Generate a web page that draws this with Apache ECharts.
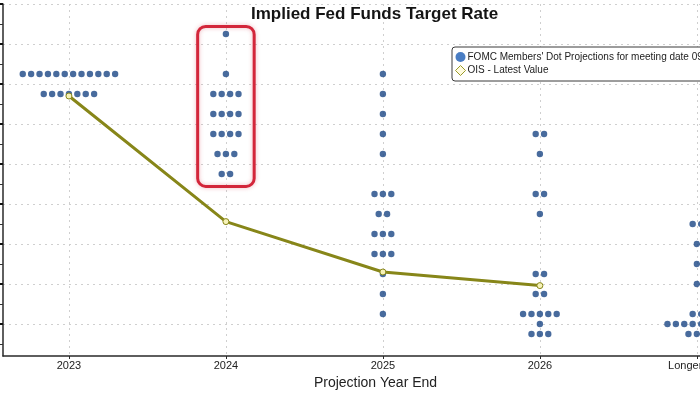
<!DOCTYPE html>
<html>
<head>
<meta charset="utf-8">
<script src="https://cdn.jsdelivr.net/npm/echarts@6/dist/echarts.min.js"></script>
<style>
html,body{margin:0;padding:0;background:#fff;}
#chart{width:700px;height:394px;}
</style>
</head>
<body>
<div id="chart"></div>
<script>
// ---- data ----
const categories = ['2023', '2024', '2025', '2026', 'Longer Run'];
// FOMC dots: [rate, number of participants]
const dots2023 = [[5.625, 12], [5.375, 7]];
const dots2024 = [[6.125, 1], [5.625, 1], [5.375, 4], [5.125, 4], [4.875, 4], [4.625, 3], [4.375, 2]];
const dots2025 = [[5.625, 1], [5.375, 1], [5.125, 1], [4.875, 1], [4.625, 1], [4.125, 3], [3.875, 2], [3.625, 3], [3.375, 3], [3.125, 1], [2.875, 1], [2.625, 1]];
const dots2026 = [[4.875, 2], [4.625, 1], [4.125, 2], [3.875, 1], [3.125, 2], [2.875, 2], [2.625, 5], [2.5, 1], [2.375, 3]];
const dotsLonger = [[3.75, 2], [3.5, 1], [3.25, 1], [3.0, 1], [2.625, 2], [2.5, 8], [2.375, 3]];
// OIS latest value per year end
const oisValues = [5.35, 3.78, 3.15, 2.98];
// y-axis ticks
const yMajorTicks = [2.5, 3.0, 3.5, 4.0, 4.5, 5.0, 5.5, 6.0, 6.5];
const yMinorTicks = [2.25, 2.75, 3.25, 3.75, 4.25, 4.75, 5.25, 5.75, 6.25];
const dotSeriesName = "FOMC Members' Dot Projections for meeting date 09/20/2023";
const oisSeriesName = 'OIS - Latest Value';

// ---- layout helpers ----
const DOT_STEP = 0.0535; // horizontal spacing between dots in a row (category units)
const allDots = [dots2023, dots2024, dots2025, dots2026, dotsLonger];
const dotPoints = [];
allDots.forEach(function (rows, ci) {
  rows.forEach(function (r) {
    const n = r[1];
    for (let j = 0; j < n; j++) {
      dotPoints.push([ci + (j - (n - 1) / 2) * DOT_STEP, r[0]]);
    }
  });
});
const oisPoints = oisValues.map(function (v, i) { return [i, v]; });
const catTicks = categories.map(function (c, i) { return i; });

const FONT = 'Liberation Sans, Arial, sans-serif';
const chart = echarts.init(document.getElementById('chart'), null, {renderer: 'canvas'});

const option = {
  animation: false,
  backgroundColor: '#ffffff',
  title: {
    text: 'Implied Fed Funds Target Rate',
    left: 246,
    top: 1,
    textStyle: {fontFamily: FONT, fontSize: 17, fontWeight: 'bold', color: '#141414'}
  },
  legend: {
    orient: 'vertical',
    left: 452,
    top: 47,
    padding: [5, 6, 5, 3],
    itemGap: 3,
    itemWidth: 10,
    itemHeight: 10,
    borderColor: '#3a3a3a',
    borderWidth: 1,
    borderRadius: 3,
    backgroundColor: '#ffffff',
    textStyle: {fontFamily: FONT, fontSize: 10, color: '#222', padding: [0, 0, 0, -3]},
    data: [
      {name: dotSeriesName, icon: 'circle', itemStyle: {color: '#1c5cb4'}},
      {name: oisSeriesName, icon: 'diamond', itemStyle: {color: '#fffbe0', borderColor: '#9a9a28', borderWidth: 1}}
    ]
  },
  grid: {left: 3, right: 0, top: 4, bottom: 38, containLabel: false, outerBoundsMode: 'none'},
  xAxis: {
    type: 'value',
    min: -0.42,
    max: 4.02,
    axisLine: {show: true, onZero: false, lineStyle: {color: '#2a2a2a', width: 1.5}},
    axisTick: {show: true, customValues: catTicks, length: 3, lineStyle: {color: '#2a2a2a'}},
    axisLabel: {
      customValues: catTicks,
      formatter: function (v) { return categories[Math.round(v)]; },
      fontFamily: FONT, fontSize: 11, color: '#222', margin: 4
    },
    splitLine: {show: true, lineStyle: {color: '#cfcfcf', type: [2, 4], width: 1}},
    name: 'Projection Year End',
    nameLocation: 'middle',
    nameGap: 18,
    nameTextStyle: {fontFamily: FONT, fontSize: 14, color: '#222', padding: [0, 0, 0, 48]}
  },
  yAxis: [
    {
      type: 'value',
      min: 2.1,
      max: 6.5,
      position: 'left',
      axisLine: {show: true, onZero: false, lineStyle: {color: '#2a2a2a', width: 1.5}},
      axisTick: {show: true, customValues: yMajorTicks, length: 3, lineStyle: {color: '#111', width: 2}},
      axisLabel: {show: false, customValues: yMajorTicks},
      splitLine: {show: true, lineStyle: {color: '#cfcfcf', type: [2, 4], width: 1}}
    },
    {
      type: 'value',
      min: 2.1,
      max: 6.5,
      position: 'left',
      axisLine: {show: false, onZero: false},
      axisTick: {show: true, customValues: yMinorTicks, length: 3, lineStyle: {color: '#333', width: 1}},
      axisLabel: {show: false},
      splitLine: {show: false}
    }
  ],
  series: [
    {
      name: dotSeriesName,
      type: 'scatter',
      yAxisIndex: 0,
      data: dotPoints,
      symbol: 'circle',
      symbolSize: 6.4,
      clip: false,
      itemStyle: {color: '#1a4684'},
      z: 3
    },
    {
      name: oisSeriesName,
      type: 'line',
      yAxisIndex: 0,
      data: oisPoints,
      symbol: 'circle',
      symbolSize: 6,
      showSymbol: true,
      lineStyle: {color: '#878619', width: 3},
      itemStyle: {color: '#f6f2b8', borderColor: '#878619', borderWidth: 1},
      z: 4
    }
  ]
};
chart.setOption(option);

// Red highlight box around the 2024 column (placed via the chart's scales)
const highlight = {category: '2024', top: 6.22, bottom: 4.22, halfWidth: 0.18};
const hi = categories.indexOf(highlight.category);
const p1 = chart.convertToPixel({gridIndex: 0}, [hi - highlight.halfWidth, highlight.top]);
const p2 = chart.convertToPixel({gridIndex: 0}, [hi + highlight.halfWidth, highlight.bottom]);
chart.setOption({
  graphic: [{
    type: 'rect',
    z: 10,
    shape: {x: p1[0], y: p1[1], width: p2[0] - p1[0], height: p2[1] - p1[1], r: 8},
    style: {fill: null, stroke: '#d3263a', lineWidth: 3, shadowBlur: 4, shadowColor: 'rgba(210,40,60,0.35)'}
  }]
});
</script>
</body>
</html>
